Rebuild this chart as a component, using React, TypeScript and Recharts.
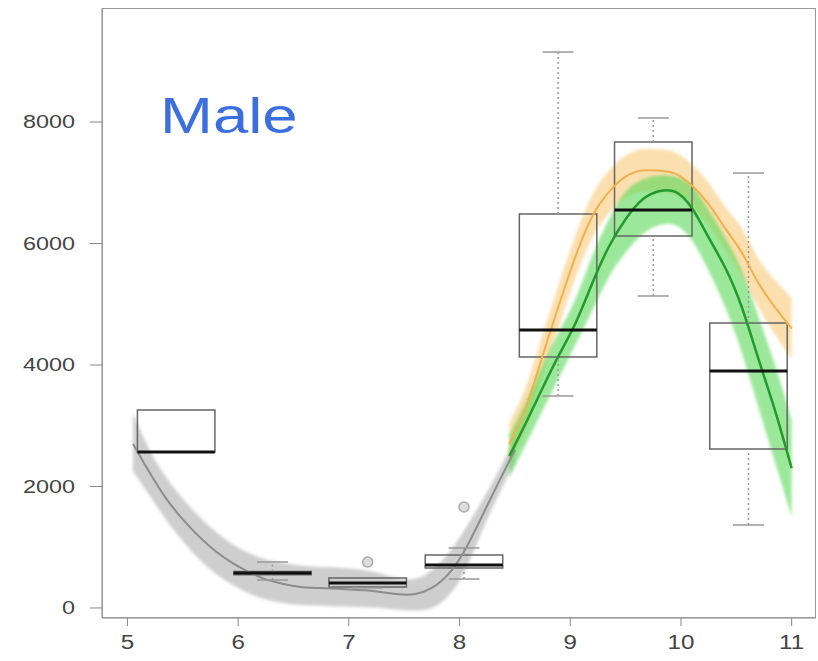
import React from 'react';
import { Area, ComposedChart, Line, ReferenceArea, ReferenceLine, Scatter, XAxis, YAxis } from 'recharts';

// smooth fit through the early ages (grey)
const grayX = [5.05, 5.2, 5.35, 5.5, 5.65, 5.8, 5.95, 6.1, 6.25, 6.4, 6.55, 6.7, 6.85, 7.0, 7.15, 7.3, 7.45, 7.6, 7.75, 7.9, 8.05, 8.2, 8.35, 8.5];
const grayFit = [2700, 2230, 1800, 1460, 1170, 930, 740, 590, 470, 400, 350, 330, 320, 305, 290, 260, 225, 230, 330, 560, 960, 1500, 2060, 2600];
const grayLo = [2250, 1850, 1450, 1100, 800, 560, 380, 240, 140, 80, 50, 40, 30, 20, 10, 0, -30, -40, 0, 200, 620, 1250, 1850, 2400];
const grayHi = [3200, 2600, 2150, 1800, 1500, 1250, 1050, 900, 800, 740, 700, 680, 670, 650, 620, 560, 490, 480, 620, 900, 1300, 1750, 2250, 2800];

// the two fits around the peak
const peakX = [8.45, 8.6, 8.75, 8.9, 9.05, 9.2, 9.35, 9.5, 9.65, 9.8, 9.95, 10.1, 10.25, 10.4, 10.55, 10.7, 10.85, 11.0];
const greenFit = [2500, 3050, 3620, 4170, 4700, 5350, 5950, 6400, 6720, 6860, 6850, 6580, 6100, 5600, 4950, 4100, 3250, 2300];
const greenLo = [2150, 2700, 3250, 3800, 4350, 4900, 5450, 5850, 6150, 6300, 6300, 6050, 5550, 4950, 4200, 3300, 2400, 1500];
const greenHi = [2850, 3400, 4000, 4550, 5100, 5800, 6400, 6850, 7050, 7120, 7100, 6950, 6550, 6100, 5550, 4800, 4000, 3100];
const orangeFit = [2700, 3300, 4150, 5000, 5800, 6450, 6850, 7100, 7200, 7200, 7150, 6950, 6650, 6250, 5850, 5350, 4950, 4600];
const orangeLo = [2350, 2950, 3800, 4650, 5450, 6100, 6500, 6750, 6850, 6850, 6800, 6600, 6300, 5900, 5450, 4950, 4500, 4100];
const orangeHi = [3050, 3650, 4500, 5350, 6150, 6800, 7200, 7450, 7550, 7550, 7500, 7300, 7000, 6600, 6250, 5750, 5400, 5100];

// box plots
const boxX = [5.44, 6.31, 7.17, 8.04, 8.89, 9.75, 10.61];
const boxLow = [2568, 460, 330, 477, 3490, 5136, 1366];
const boxQ1 = [2568, 545, 346, 658, 4132, 6123, 2617];
const boxMed = [2568, 576, 411, 708, 4576, 6551, 3901];
const boxQ3 = [3259, 600, 494, 872, 6486, 7671, 4691];
const boxHigh = [3259, 757, 494, 988, 9152, 8066, 7160];
const outlierX = [7.17, 8.04];
const outlierY = [757, 1663];

const xTicks = [5, 6, 7, 8, 9, 10, 11];
const yTicks = [0, 2000, 4000, 6000, 8000];

const table = [
  ...grayX.map((x, i) => ({ x, gray: grayFit[i], grayBand: [grayLo[i], grayHi[i]] })),
  ...peakX.map((x, i) => ({
    x,
    green: greenFit[i],
    greenBand: [greenLo[i], greenHi[i]],
    orange: orangeFit[i],
    orangeBand: [orangeLo[i], orangeHi[i]],
  })),
].sort((a, b) => a.x - b.x);

const outliers = outlierX.map((x, i) => ({ x, y: outlierY[i] }));

const HALF = 0.35;
const CAP = 0.14;

const YTick = (props: any) => {
  const { x, y, payload } = props;
  return (
    <g transform={`translate(${x},${y})`}>
      <text transform="scale(1.3,1)" textAnchor="end" dy="0.35em" fill="#444" fontSize={18} fontFamily="Liberation Sans, Arial, sans-serif">
        {payload.value}
      </text>
    </g>
  );
};

const XTick = (props: any) => {
  const { x, y, payload } = props;
  return (
    <g transform={`translate(${x},${y})`}>
      <text transform="scale(1.15,1)" textAnchor="middle" dy="0.8em" fill="#444" fontSize={21} fontFamily="Liberation Sans, Arial, sans-serif">
        {payload.value}
      </text>
    </g>
  );
};

export default function App() {
  return (
    <div style={{ position: 'absolute', left: 0, top: 0, width: 818, height: 661, background: '#fff' }}>
      <style>{`.soft path { filter: blur(1.5px); }`}</style>
      <ComposedChart width={818} height={661} data={table} margin={{ top: 8, right: 2, bottom: 0, left: 0 }}>
        <XAxis
          type="number"
          dataKey="x"
          domain={[4.77, 11.22]}
          ticks={xTicks}
          allowDataOverflow
          height={43}
          tickSize={8}
          tickMargin={6}
          tick={<XTick />}
          stroke="#888"
        />
        <YAxis
          type="number"
          domain={[-165, 9877]}
          ticks={yTicks}
          allowDataOverflow
          width={102}
          tickSize={12}
          tickMargin={15}
          tick={<YTick />}
          stroke="#888"
        />
        <Area className="soft" type="natural" dataKey="grayBand" stroke="none" fill="#bdbdbd" fillOpacity={0.75} connectNulls isAnimationActive={false} />
        <Line type="natural" dataKey="gray" stroke="#8c8c8c" strokeWidth={2} dot={false} connectNulls isAnimationActive={false} />
        <Area className="soft" type="natural" dataKey="orangeBand" stroke="none" fill="#f7c46c" fillOpacity={0.55} connectNulls isAnimationActive={false} />
        <Area className="soft" type="natural" dataKey="greenBand" stroke="none" fill="#58d858" fillOpacity={0.6} connectNulls isAnimationActive={false} />
        <Line type="natural" dataKey="orange" stroke="#f1b04e" strokeWidth={2} dot={false} connectNulls isAnimationActive={false} />
        <Line type="natural" dataKey="green" stroke="#229a2c" strokeWidth={2.5} dot={false} connectNulls isAnimationActive={false} />

        {boxX.map((bx, i) => (
          <ReferenceArea key={`box${i}`} x1={bx - HALF} x2={bx + HALF} y1={boxQ1[i]} y2={boxQ3[i]} stroke="#666" strokeWidth={1.5} fill="none" ifOverflow="visible" />
        ))}
        {boxX.map((bx, i) =>
          boxHigh[i] > boxQ3[i] ? (
            <ReferenceLine key={`wh${i}`} segment={[{ x: bx, y: boxQ3[i] }, { x: bx, y: boxHigh[i] }]} stroke="#999" strokeWidth={1.5} strokeDasharray="2 3" ifOverflow="visible" />
          ) : null
        )}
        {boxX.map((bx, i) =>
          boxLow[i] < boxQ1[i] ? (
            <ReferenceLine key={`wl${i}`} segment={[{ x: bx, y: boxLow[i] }, { x: bx, y: boxQ1[i] }]} stroke="#999" strokeWidth={1.5} strokeDasharray="2 3" ifOverflow="visible" />
          ) : null
        )}
        {boxX.map((bx, i) =>
          boxHigh[i] > boxQ3[i] ? (
            <ReferenceLine key={`ch${i}`} segment={[{ x: bx - CAP, y: boxHigh[i] }, { x: bx + CAP, y: boxHigh[i] }]} stroke="#999" strokeWidth={1.5} ifOverflow="visible" />
          ) : null
        )}
        {boxX.map((bx, i) =>
          boxLow[i] < boxQ1[i] ? (
            <ReferenceLine key={`cl${i}`} segment={[{ x: bx - CAP, y: boxLow[i] }, { x: bx + CAP, y: boxLow[i] }]} stroke="#999" strokeWidth={1.5} ifOverflow="visible" />
          ) : null
        )}
        {boxX.map((bx, i) => (
          <ReferenceLine key={`med${i}`} segment={[{ x: bx - HALF, y: boxMed[i] }, { x: bx + HALF, y: boxMed[i] }]} stroke="#111" strokeWidth={3} ifOverflow="visible" />
        ))}
        <Scatter
          data={outliers}
          dataKey="y"
          isAnimationActive={false}
          shape={(p: any) => <circle cx={p.cx} cy={p.cy} r={5} fill="#ddd" stroke="#aaa" strokeWidth={1.5} />}
        />
      </ComposedChart>
      <div
        style={{
          position: 'absolute',
          left: 102,
          top: 8,
          width: 714,
          height: 610,
          border: '1.5px solid #999',
          boxSizing: 'border-box',
          pointerEvents: 'none',
        }}
      />
      <div
        style={{
          position: 'absolute',
          left: 160,
          top: 91,
          fontSize: 50,
          lineHeight: 1,
          color: '#3b6fe0',
          fontFamily: 'Liberation Sans, Arial, sans-serif',
          transform: 'scaleX(1.27)',
          transformOrigin: 'left top',
          whiteSpace: 'nowrap',
        }}
      >
        Male
      </div>
    </div>
  );
}
